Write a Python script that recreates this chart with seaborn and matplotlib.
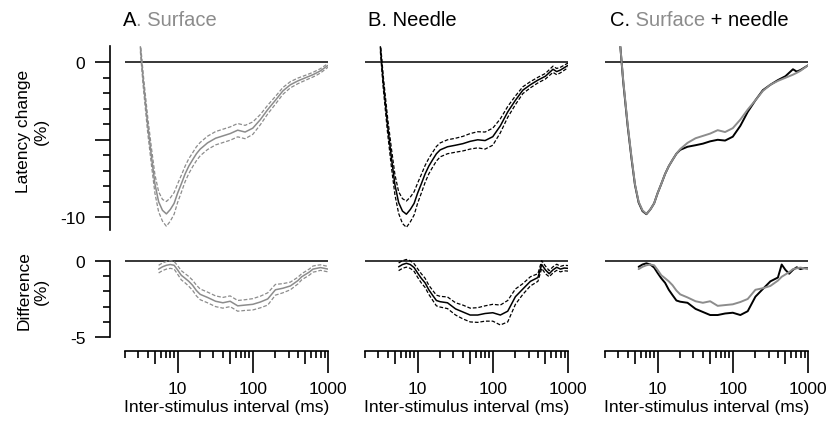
import numpy as np
import matplotlib
matplotlib.use('Agg')
import matplotlib.pyplot as plt
import seaborn as sns

sns.set_style('ticks', {'axes.edgecolor': 'black', 'xtick.color': 'black', 'ytick.color': 'black',
                        'text.color': 'black', 'axes.labelcolor': 'black'})
plt.rcParams['font.family'] = ['Liberation Sans', 'DejaVu Sans']
plt.rcParams['axes.unicode_minus'] = False
plt.rcParams['font.size'] = 12.5

# inter-stimulus intervals (ms) for the recovery curves
isi = [3.2, 3.5, 4, 4.5, 5, 5.6, 6.3, 7.1, 8, 9, 10, 11.2, 12.6, 14.1, 15.8, 17.8, 20, 25, 32, 40,
       50, 63, 79, 100, 126, 158, 200, 251, 316, 398, 501, 631, 708, 794, 1000]

# latency change (%) - mean and sem
surface_mean = [1.0, -1.2, -4.0, -6.1, -7.85, -9.0, -9.55, -9.78, -9.5, -9.1, -8.45, -7.85, -7.2, -6.7,
                -6.3, -5.9, -5.6, -5.2, -4.9, -4.75, -4.6, -4.38, -4.5, -4.25, -3.7, -3.05, -2.45, -1.85,
                -1.45, -1.2, -1.0, -0.8, -0.68, -0.55, -0.2]
surface_sem = [0.3, 0.4, 0.5, 0.55, 0.6, 0.65, 0.7, 0.8, 0.75, 0.7, 0.6, 0.55, 0.5, 0.48, 0.45, 0.45,
               0.43, 0.43, 0.43, 0.43, 0.43, 0.43, 0.43, 0.4, 0.33, 0.28, 0.25, 0.22, 0.2, 0.18, 0.16,
               0.15, 0.15, 0.14, 0.12]
needle_mean = [1.0, -1.3, -4.1, -6.2, -7.9, -9.05, -9.6, -9.8, -9.5, -9.1, -8.45, -7.85, -7.2, -6.7,
               -6.3, -5.9, -5.65, -5.45, -5.35, -5.25, -5.1, -5.0, -5.05, -4.8, -4.1, -3.2, -2.45, -1.8,
               -1.45, -1.15, -0.9, -0.45, -0.6, -0.5, -0.2]
needle_sem = [0.3, 0.4, 0.5, 0.6, 0.65, 0.7, 0.8, 0.85, 0.8, 0.75, 0.65, 0.6, 0.55, 0.5, 0.48, 0.47,
              0.45, 0.45, 0.45, 0.47, 0.5, 0.52, 0.55, 0.55, 0.45, 0.35, 0.28, 0.22, 0.2, 0.18, 0.18,
              0.2, 0.2, 0.18, 0.15]

# difference (%) - mean and sem
isi_diff = [5.6, 6.3, 7.1, 8, 9, 10, 11.2, 12.6, 14.1, 15.8, 17.8, 20, 25, 32, 40, 50, 63, 79, 100,
            126, 158, 200, 251, 316, 398, 447, 501, 562, 631, 708, 794, 891, 1000]
surface_diff = [-0.55, -0.4, -0.3, -0.25, -0.3, -0.6, -0.95, -1.15, -1.35, -1.6, -1.95, -2.2, -2.4,
                -2.65, -2.75, -2.65, -2.95, -2.9, -2.85, -2.7, -2.5, -1.9, -1.8, -1.65, -1.3, -1.05,
                -0.9, -0.75, -0.55, -0.5, -0.45, -0.5, -0.55]
surface_diff_sem = [0.25, 0.25, 0.25, 0.25, 0.25, 0.28, 0.3, 0.3, 0.32, 0.33, 0.35, 0.35, 0.35, 0.35,
                    0.35, 0.35, 0.35, 0.35, 0.37, 0.38, 0.4, 0.35, 0.3, 0.25, 0.22, 0.2, 0.2, 0.2, 0.2,
                    0.2, 0.18, 0.18, 0.18]
needle_diff = [-0.4, -0.25, -0.17, -0.25, -0.45, -0.8, -1.15, -1.45, -1.9, -2.25, -2.6, -2.68, -2.75,
               -3.15, -3.35, -3.55, -3.55, -3.45, -3.4, -3.55, -3.3, -2.35, -1.85, -1.35, -1.1, -0.25,
               -0.6, -0.85, -0.6, -0.43, -0.55, -0.48, -0.5]
needle_diff_sem = [0.25, 0.25, 0.25, 0.25, 0.25, 0.28, 0.3, 0.3, 0.3, 0.32, 0.35, 0.35, 0.38, 0.4,
                   0.45, 0.45, 0.48, 0.5, 0.55, 0.65, 0.7, 0.5, 0.35, 0.3, 0.25, 0.25, 0.25, 0.2, 0.2,
                   0.2, 0.18, 0.18, 0.18]

GRAY = '#8c8c8c'
W, H = 831, 427
fig = plt.figure(figsize=(W / 100, H / 100), dpi=100)


def rect(left, top, width, bottom):
    return [left / W, 1 - bottom / H, width / W, (bottom - top) / H]


lefts = [125, 365, 605]
top_axes = [fig.add_axes(rect(l, 47.0, 203, 236.9)) for l in lefts]
bot_axes = [fig.add_axes(rect(l, 254.8, 203, 352.0)) for l in lefts]


def band(ax, x, mean, sem, color):
    m = np.array(mean)
    s = np.array(sem)
    sns.lineplot(x=x, y=m, ax=ax, color=color, lw=1.1)
    sns.lineplot(x=x, y=m + s, ax=ax, color=color, lw=0.9, linestyle=(0, (3, 1.5)))
    sns.lineplot(x=x, y=m - s, ax=ax, color=color, lw=0.9, linestyle=(0, (3, 1.5)))


band(top_axes[0], isi, surface_mean, surface_sem, GRAY)
band(top_axes[1], isi, needle_mean, needle_sem, 'black')
sns.lineplot(x=isi, y=needle_mean, ax=top_axes[2], color='black', lw=1.4)
sns.lineplot(x=isi, y=surface_mean, ax=top_axes[2], color=GRAY, lw=1.4)

band(bot_axes[0], isi_diff, surface_diff, surface_diff_sem, GRAY)
band(bot_axes[1], isi_diff, needle_diff, needle_diff_sem, 'black')
sns.lineplot(x=isi_diff, y=needle_diff, ax=bot_axes[2], color='black', lw=1.4)
sns.lineplot(x=isi_diff, y=surface_diff, ax=bot_axes[2], color=GRAY, lw=1.4)

for ax in top_axes + bot_axes:
    ax.set_xscale('log')
    ax.set_xlim(2, 1000)
    ax.axhline(0, color='black', lw=1.1, zorder=0)
    ax.spines['top'].set_visible(False)
    ax.spines['right'].set_visible(False)
    for sp in ax.spines.values():
        sp.set_linewidth(1.2)
    ax.set_xlabel('')
    ax.set_ylabel('')

for ax in top_axes:
    ax.set_ylim(-11.2, 1.05)
    ax.spines['bottom'].set_visible(False)
    ax.tick_params(axis='x', which='both', bottom=False, labelbottom=False)

for ax in bot_axes:
    ax.set_ylim(-5.9, 0.45)
    ax.set_xticks([5, 10, 50, 100, 500, 1000], labels=['', '10', '', '100', '', '1000'])
    ax.set_xticks([2, 3, 4, 6, 7, 8, 9, 20, 30, 40, 60, 70, 80, 90, 200, 300, 400, 600, 700, 800, 900],
                  minor=True)
    ax.xaxis.set_minor_formatter(plt.NullFormatter())
    ax.tick_params(axis='x', which='major', length=15.6, width=1.2, pad=6, labelsize=12.5)
    ax.tick_params(axis='x', which='minor', length=4.8, width=1.2)
    for t, v in zip(ax.xaxis.get_major_ticks(), [5, 10, 50, 100, 500, 1000]):
        if v in (5, 50, 500):
            t.tick1line.set_markersize(9.4)
    ax.set_xlabel('Inter-stimulus interval (ms)', fontsize=12.5, labelpad=2)

for ax in top_axes[1:] + bot_axes[1:]:
    ax.spines['left'].set_visible(False)
    ax.tick_params(axis='y', which='both', left=False, labelleft=False)

# detached y axes on the first column
for ax, lo, hi in [(top_axes[0], -10.85, 1.05), (bot_axes[0], -5, 0)]:
    ax.spines['left'].set_position(('outward', 10.8))
    ax.spines['left'].set_bounds(lo, hi)
    ax.tick_params(axis='y', which='major', length=10.8, width=1.2, pad=7, labelsize=12.5)
    ax.tick_params(axis='y', which='minor', length=4.8, width=1.2)

top_axes[0].set_yticks([-10, -5, 0], labels=['-10', '', '0'])
top_axes[0].set_yticks([-9, -8, -7, -6, -4, -3, -2, -1], minor=True)
bot_axes[0].set_yticks([-5, 0], labels=['-5', '0'])
bot_axes[0].set_yticks([-4, -3, -2, -1], minor=True)

fig.text(32.5 / W, 1 - 131 / H, 'Latency change\n(%)', rotation=90, ha='center', va='center',
         multialignment='center', fontsize=12.5)
fig.text(32.5 / W, 1 - 291 / H, 'Difference\n(%)', rotation=90, ha='center', va='center',
         multialignment='center', fontsize=12.5)

# panel titles with coloured parts
renderer = fig.canvas.get_renderer()


def title(x_px, pieces):
    x = x_px / W
    for txt, col in pieces:
        t = fig.text(x, 1 - 26 / H, txt, color=col, fontsize=14.5, ha='left', va='baseline')
        bb = t.get_window_extent(renderer=renderer)
        x = bb.x1 / W


title(123, [('A', 'black'), ('. Surface', GRAY)])
title(368, [('B. Needle', 'black')])
title(610, [('C.', 'black'), (' Surface', GRAY), (' + needle', 'black')])

fig.savefig('out.png', dpi=100)
